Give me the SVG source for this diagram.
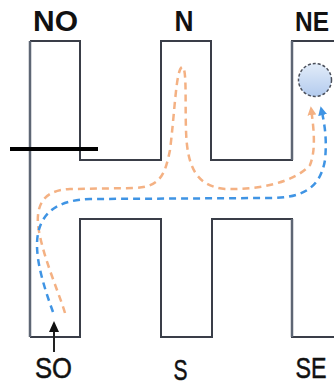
<svg xmlns="http://www.w3.org/2000/svg" width="334" height="385" viewBox="0 0 334 385">
<style>
.wall{fill:none;stroke:#3a3e48;stroke-width:2;stroke-linejoin:miter}
.wall2{fill:none;stroke:#5e6674;stroke-width:2.5}
.lbl{font-family:"Liberation Sans",Arial,sans-serif;font-size:29px;fill:#111;text-anchor:middle}
.top{font-weight:bold}
.bot{stroke:#111;stroke-width:0.5}
.route{fill:none;stroke-width:2.5;stroke-dasharray:7 5}
</style>
<defs>
<marker id="ao" viewBox="0 0 10 10" refX="8" refY="5" markerWidth="3.6" markerHeight="3.6" orient="auto" markerUnits="strokeWidth"><path d="M0,0 L10,5 L0,10 z" fill="#f4b183"/></marker>
<marker id="ab" viewBox="0 0 10 10" refX="8" refY="5" markerWidth="3.6" markerHeight="3.6" orient="auto" markerUnits="strokeWidth"><path d="M0,0 L10,5 L0,10 z" fill="#3f94e4"/></marker>
<linearGradient id="g" x1="0" y1="0" x2="0" y2="1"><stop offset="0" stop-color="#e2ecf9"/><stop offset="1" stop-color="#b3cbee"/></linearGradient>
</defs>
<g id="walls">
<path class="wall" d="M30,41 H80 V160 H161 V41 H211 V160 H292 V41 H334"/>
<path class="wall" d="M30,337 H80 V219 H161 V337 H212 V219 H292 V337 H334"/>
<path class="wall2" d="M30,41 V337"/>
<path class="wall2" d="M292,41 V160"/>
<path class="wall2" d="M292,219 V337"/>
</g>
<g id="barrier"><line x1="10" y1="149" x2="98" y2="149" stroke="#000" stroke-width="4"/></g>
<g id="labels">
<text class="lbl top" x="55.5" y="31" textLength="45" lengthAdjust="spacingAndGlyphs">NO</text>
<text class="lbl top" x="184" y="31" textLength="19" lengthAdjust="spacingAndGlyphs">N</text>
<text class="lbl top" x="312" y="31" style="font-size:28px" textLength="34" lengthAdjust="spacingAndGlyphs">NE</text>
<text class="lbl bot" x="53.5" y="378" textLength="37" lengthAdjust="spacingAndGlyphs">SO</text>
<text class="lbl bot" x="180.5" y="380" textLength="14" lengthAdjust="spacingAndGlyphs">S</text>
<text class="lbl bot" x="311" y="378" textLength="31" lengthAdjust="spacingAndGlyphs">SE</text>
</g>
<g id="target"><circle cx="315" cy="80" r="16.5" fill="url(#g)" stroke="#4a4f5a" stroke-width="1.5" stroke-dasharray="3 2"/></g>
<g id="connectors">
<path class="route" stroke="#f4b183" marker-end="url(#ao)" d="M65,313 C58,290 42,255 38,225 C36,200 48,190 70,189 L135,188 C160,187 165,175 170,150 C175,110 176,70 182,67 C187,66 185,100 186,130 C187,165 195,186 225,189 C260,190 295,182 310,165 C316,150 314,130 311,108"/>
<path class="route" stroke="#3f94e4" marker-end="url(#ab)" d="M53,312 C45,290 37,265 37,245 C37,215 55,200 90,199 L270,198 C300,198 320,190 325,160 C327,140 325,125 321,108"/>
<line x1="54" y1="352" x2="54" y2="330" stroke="#222" stroke-width="2"/>
<path d="M54,321 L49,332 L59,332 z" fill="#111"/>
</g>
</svg>
